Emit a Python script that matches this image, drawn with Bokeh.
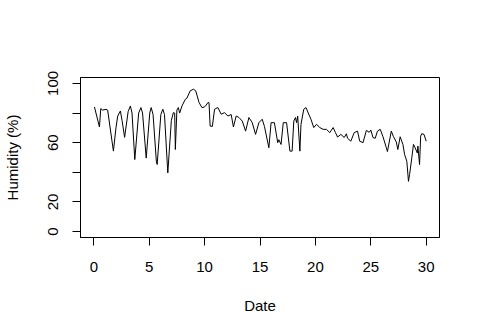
from bokeh.plotting import figure
from bokeh.models import Range1d, FixedTicker
from bokeh.embed import file_html
from bokeh.resources import INLINE

date = [0.06, 0.51, 0.63, 0.8, 1.1, 1.25, 1.77, 2.0, 2.16, 2.4, 2.55, 2.78, 3.1, 3.3,
        3.45, 3.7, 4.05, 4.25, 4.4, 4.73, 5.05, 5.18, 5.35, 5.65, 5.72, 6.05, 6.23,
        6.38, 6.68, 7.0, 7.18, 7.3, 7.36, 7.5, 7.63, 7.75, 7.96, 8.26, 8.4, 8.7, 9.0, 9.2,
        9.5, 9.76, 9.95, 10.09, 10.3, 10.4, 10.5, 10.7, 10.9, 11.2, 11.5, 11.8, 12.1,
        12.4, 12.6, 12.85, 13.1, 13.4, 13.7, 14.0, 14.3, 14.6, 14.9, 15.2, 15.4, 15.8,
        16.0, 16.3, 16.6, 16.7, 16.9, 17.1, 17.4, 17.7, 17.9, 18.05, 18.2, 18.3, 18.4,
        18.6, 18.7, 18.95, 19.15, 19.4, 19.6, 19.85, 20.1, 20.4, 20.7, 21.0, 21.3, 21.6,
        21.8, 22.0, 22.3, 22.6, 22.8, 22.9, 23.2, 23.5, 23.8, 24.0, 24.3, 24.6, 24.85,
        25.0, 25.2, 25.4, 25.6, 25.85, 26.1, 26.4, 26.5, 26.85, 27.05, 27.3, 27.44,
        27.65, 27.9, 28.05, 28.25, 28.4, 28.5, 28.7, 28.85, 29.0, 29.2, 29.25, 29.4,
        29.5, 29.6, 29.8, 30.0]
humidity = [84.1, 70.6, 83, 82, 82.5, 82, 54.3, 70, 78, 81.4, 75, 63.6, 81, 84.8,
            80, 48.6, 80, 83.7, 80, 49.6, 80, 83.7, 79, 47, 45.3, 79, 82.6,
            79, 39.6, 75, 80.3, 80, 55.4, 82, 83.7, 80, 84.8, 89.3, 90, 95, 96.1, 95,
            87.1, 83.7, 84, 84.8, 87.1, 87, 71.2, 71, 82.6, 83.7, 79.2, 80.3, 78,
            79, 70.6, 78, 77, 74.6, 67.8, 77, 73.5, 65.6, 73.5, 75.8, 71, 56.6,
            73.5, 73.5, 60, 62, 58.8, 73.5, 73.5, 54.3, 54.3, 74.6, 77, 73.5, 78,
            54.3, 72.4, 82.6, 83.7, 79.2, 75.8, 70.2, 72.4, 70.2, 69, 69, 66.8, 70.2,
            67, 63.8, 65.6, 63.5, 66, 63, 61, 66.8, 67.8, 61, 60, 68.3, 67,
            68.5, 63.4, 63, 67.8, 69, 64, 56.6, 54, 67.8, 64, 60.5, 55.4,
            64, 58.8, 52, 47.5, 33.9, 38.5, 49.8, 58.8, 56.6, 53, 57.7, 45.2,
            64.4, 66.1, 65.6, 61]

x_ticks = [0, 5, 10, 15, 20, 25, 30]
y_ticks = [0, 20, 40, 60, 80, 100]
y_tick_labels = {0: "0", 20: "20", 40: "", 60: "60", 80: "", 100: "100"}

FONT = "Liberation Sans"

p = figure(width=464, height=319, output_backend="svg", toolbar_location=None,
           x_range=Range1d(-1.2, 31.2), y_range=Range1d(-4, 104),
           min_border_left=78, min_border_right=25, min_border_top=77,
           min_border_bottom=82)
p.background_fill_color = "white"
p.border_fill_color = "white"
p.outline_line_color = "black"
p.outline_line_width = 1
p.grid.visible = False

p.line(date, humidity, line_color="black", line_width=1)

p.xaxis.ticker = FixedTicker(ticks=x_ticks)
p.yaxis.ticker = FixedTicker(ticks=y_ticks)
p.yaxis.major_label_overrides = y_tick_labels
p.yaxis.major_label_orientation = "vertical"

for ax in (p.xaxis, p.yaxis):
    ax.axis_line_color = "black"
    ax.major_tick_out = 8
    ax.major_tick_in = 0
    ax.minor_tick_line_color = None
    ax.major_label_text_font = FONT
    ax.major_label_text_font_size = "15px"
    ax.major_label_text_color = "black"
    ax.axis_label_text_font = FONT
    ax.axis_label_text_font_size = "15px"
    ax.axis_label_text_font_style = "normal"
    ax.axis_label_text_color = "black"

p.xaxis.axis_label = "Date"
p.yaxis.axis_label = "Humidity (%)"
p.xaxis.major_label_standoff = 16
p.yaxis.major_label_standoff = 14
p.xaxis.axis_label_standoff = 22
p.yaxis.axis_label_standoff = 25

open("out.html", "w").write(file_html(p, INLINE))
